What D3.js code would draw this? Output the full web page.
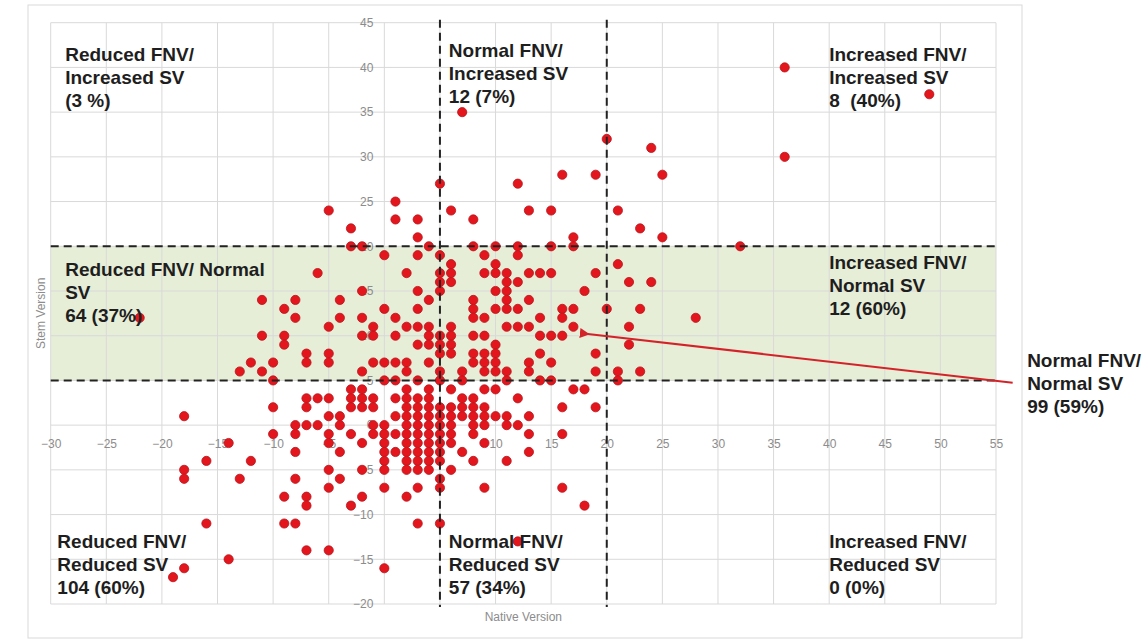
<!DOCTYPE html>
<html><head><meta charset="utf-8">
<script src="https://cdn.jsdelivr.net/npm/d3@7"></script>
<style>body{margin:0;background:#fff;} svg{display:block;}</style>
</head><body>
<svg id="chart" width="1148" height="643"></svg>
<script>
// ---- data ----
const xTicks = [-30,-25,-20,-15,-10,-5,0,5,10,15,20,25,30,35,40,45,50,55];
const yTicks = [-20,-15,-10,-5,0,5,10,15,20,25,30,35,40,45];
const xThresholds = [5, 20];          // Native Version cut-offs
const yThresholds = [5, 20];          // Stem Version cut-offs (normal band)
const xTitle = "Native Version";
const yTitle = "Stem Version";
// [native, stem]
const points = [
 [36,40],[49,37],[7,35],[20,32],[24,31],[36,30],[16,28],[19,28],[25,28],[5,27],[12,27],
 [1,25],
 [-5,24],[6,24],[13,24],[15,24],[21,24],
 [1,23],[3,23],[8,23],
 [-3,22],[23,22],
 [3,21],[17,21],[25,21],
 [-3,20],[-2,20],[4,20],[8,20],[10,20],[12,20],[15,20],[17,20],[32,20],
 [0,19],[3,19],[5,19],[9,19],[12,19],
 [6,18],[10,18],[21,18],
 [-6,17],[2,17],[5,17],[6,17],[9,17],[10,17],[11,17],[13,17],[14,17],[15,17],[19,17],
 [5,16],[6,16],[11,16],[12,16],[22,16],[24,16],
 [-2,15],[3,15],[5,15],[10,15],[11,15],[18,15],
 [-11,14],[-8,14],[-4,14],[4,14],[8,14],[11,14],[13,14],
 [-9,13],[0,13],[3,13],[8,13],[10,13],[11,13],[12,13],[16,13],[17,13],[20,13],[23,13],
 [-22,12],[-8,12],[-4,12],[-2,12],[1,12],[8,12],[9,12],[14,12],[16,12],[28,12],
 [-5,11],[-1,11],[2,11],[3,11],[4,11],[6,11],[11,11],[12,11],[13,11],[17,11],[22,11],
 [-11,10],[-9,10],[-2,10],[-1,10],[1,10],[4,10],[5,10],[6,10],[8,10],[9,10],[14,10],[15,10],[16,10],
 [-9,9],[3,9],[4,9],[5,9],[6,9],[10,9],[22,9],
 [-7,8],[-5,8],[5,8],[6,8],[8,8],[9,8],[10,8],[14,8],[19,8],
 [-12,7],[-10,7],[-7,7],[-5,7],[-1,7],[0,7],[1,7],[2,7],[4,7],[8,7],[9,7],[10,7],[13,7],[15,7],
 [-13,6],[-11,6],[-2,6],[2,6],[5,6],[7,6],[9,6],[10,6],[11,6],[13,6],[19,6],[21,6],[23,6],
 [-10,5],[0,5],[1,5],[3,5],[5,5],[7,5],[11,5],[14,5],[15,5],[21,5],
 [-3,4],[-2,4],[2,4],[4,4],[6,4],[9,4],[10,4],[17,4],[18,4],
 [-7,3],[-6,3],[-5,3],[-3,3],[-2,3],[-1,3],[1,3],[2,3],[3,3],[4,3],[7,3],[8,3],[12,3],
 [-10,2],[-7,2],[-3,2],[-2,2],[-1,2],[2,2],[3,2],[4,2],[5,2],[6,2],[7,2],[8,2],[9,2],[16,2],[19,2],
 [-18,1],[-5,1],[-4,1],[1,1],[2,1],[3,1],[4,1],[5,1],[6,1],[7,1],[8,1],[9,1],[10,1],[11,1],[13,1],
 [-8,0],[-7,0],[-6,0],[-4,0],[-1,0],[0,0],[2,0],[3,0],[4,0],[5,0],[6,0],[8,0],[9,0],[11,0],[12,0],
 [-10,-1],[-8,-1],[-5,-1],[-3,-1],[-1,-1],[0,-1],[1,-1],[2,-1],[3,-1],[4,-1],[5,-1],[6,-1],[8,-1],[13,-1],[16,-1],
 [-14,-2],[-5,-2],[-2,-2],[0,-2],[2,-2],[3,-2],[4,-2],[5,-2],[6,-2],[9,-2],
 [-8,-3],[-4,-3],[0,-3],[1,-3],[2,-3],[3,-3],[4,-3],[5,-3],[7,-3],[13,-3],
 [-16,-4],[-12,-4],[0,-4],[2,-4],[3,-4],[4,-4],[5,-4],[8,-4],[11,-4],
 [-18,-5],[-5,-5],[-2,-5],[0,-5],[2,-5],[3,-5],[4,-5],[6,-5],
 [-18,-6],[-13,-6],[-8,-6],[-4,-6],[5,-6],
 [-5,-7],[0,-7],[3,-7],[5,-7],[9,-7],[16,-7],
 [-9,-8],[-7,-8],[-2,-8],[2,-8],
 [-7,-9],[-3,-9],[18,-9],
 [-16,-11],[-9,-11],[-8,-11],[3,-11],[5,-11],
 [12,-13],
 [-7,-14],[-5,-14],
 [-14,-15],
 [-18,-16],[0,-16],
 [-19,-17]
];
// quadrant annotation text lines and their anchor (data coords: native, stem)
const labelLines = [
 ["Reduced FNV/","Increased SV","(3 %)"],
 ["Normal FNV/","Increased SV","12 (7%)"],
 ["Increased FNV/","Increased SV","8  (40%)"],
 ["Reduced FNV/ Normal","SV","64 (37%)"],
 ["Increased FNV/","Normal SV","12 (60%)"],
 ["Normal FNV/","Normal SV","99 (59%)"],
 ["Reduced FNV/","Reduced SV","104 (60%)"],
 ["Normal FNV/","Reduced SV","57 (34%)"],
 ["Increased FNV/","Reduced SV","0 (0%)"]
];
const labelAnchors = [
 [-28.7, 40.7],[5.8, 41.2],[40.0, 40.7],
 [-28.7, 16.7],[40.0, 17.5],[57.8, 6.5],
 [-29.4, -13.7],[5.8, -13.7],[40.0, -13.7]
];
const arrowFrom = [56.5, 4.75];
const arrowTo = [18.3, 10.2];

// ---- chart ----
const svg = d3.select("#chart");
const x = d3.scaleLinear().domain([-30,55]).range([50.7, 996]);
const y = d3.scaleLinear().domain([-20,45]).range([604, 22.7]);

// outer chart border
svg.append("rect").attr("x",28).attr("y",5).attr("width",994).attr("height",633)
  .attr("fill","none").attr("stroke","#d9d9d9").attr("stroke-width",1);

// normal-SV band
svg.append("rect")
  .attr("x", x(-30)).attr("y", y(yThresholds[1]))
  .attr("width", x(55)-x(-30)).attr("height", y(yThresholds[0])-y(yThresholds[1]))
  .attr("fill","#e6eed8");

// gridlines
const grid = svg.append("g").attr("stroke","#d9d9d9").attr("stroke-width",1);
grid.selectAll(".vx").data(xTicks).join("line")
  .attr("x1",d=>x(d)).attr("x2",d=>x(d)).attr("y1",y(45)).attr("y2",y(-20));
grid.selectAll(".hy").data(yTicks).join("line")
  .attr("y1",d=>y(d)).attr("y2",d=>y(d)).attr("x1",x(-30)).attr("x2",x(55));

// axis labels via d3 axes crossing at 0
const xAxis = svg.append("g").attr("transform",`translate(0,${y(0)})`)
  .call(d3.axisBottom(x).tickValues(xTicks).tickSize(0).tickPadding(14).tickFormat(d3.format("d")));
const yAxis = svg.append("g").attr("transform",`translate(${x(0)},0)`)
  .call(d3.axisLeft(y).tickValues(yTicks).tickSize(0).tickPadding(11).tickFormat(d3.format("d")));
[xAxis,yAxis].forEach(a=>{
  a.select(".domain").remove();
  a.selectAll("text").attr("fill","#8c8c8c").style("font-family","'Liberation Sans', Arial, sans-serif").style("font-size","12px");
});

// axis titles
svg.append("text").attr("x",(x(-30)+x(55))/2).attr("y",621).attr("text-anchor","middle")
  .attr("fill","#8c8c8c").style("font-family","'Liberation Sans', Arial, sans-serif").style("font-size","12px").text(xTitle);
svg.append("text").attr("transform",`translate(42,${(y(45)+y(-20))/2}) rotate(-90)`)
  .attr("text-anchor","middle").attr("dominant-baseline","middle")
  .attr("fill","#8c8c8c").style("font-family","'Liberation Sans', Arial, sans-serif").style("font-size","12px").text(yTitle);

// points
svg.append("g").selectAll("circle").data(points).join("circle")
  .attr("cx",d=>x(d[0])).attr("cy",d=>y(d[1])).attr("r",4.6)
  .attr("fill","#e4161d").attr("stroke","#b8141b").attr("stroke-width",0.8);

// dashed threshold lines
const dash = svg.append("g").attr("stroke","#222").attr("stroke-width",2).attr("stroke-dasharray","8,5");
dash.selectAll(".v").data(xThresholds).join("line")
  .attr("x1",d=>x(d)).attr("x2",d=>x(d)).attr("y1",y(45)-3).attr("y2",y(-20)+3);
dash.selectAll(".h").data(yThresholds).join("line")
  .attr("y1",d=>y(d)).attr("y2",d=>y(d)).attr("x1",x(-30)).attr("x2",x(55));

// arrow
svg.append("defs").append("marker").attr("id","arr").attr("viewBox","0 0 10 10")
  .attr("refX",2).attr("refY",5).attr("markerWidth",5).attr("markerHeight",5).attr("orient","auto-start-reverse")
  .append("path").attr("d","M10,0 L0,5 L10,10 z").attr("fill","#d42229");
svg.append("line").attr("x1",x(arrowFrom[0])).attr("y1",y(arrowFrom[1]))
  .attr("x2",x(arrowTo[0])).attr("y2",y(arrowTo[1]))
  .attr("stroke","#d42229").attr("stroke-width",2).attr("marker-end","url(#arr)");

// quadrant labels
const lg = svg.append("g").style("font-family","'Liberation Sans', Arial, sans-serif")
  .style("font-size","19px").style("font-weight","bold").attr("fill","#1e1e1e");
labelLines.forEach((lines,i)=>{
  const t = lg.append("text").attr("x",x(labelAnchors[i][0])).attr("y",y(labelAnchors[i][1])).attr("xml:space","preserve");
  lines.forEach((s,j)=>{
    t.append("tspan").attr("x",x(labelAnchors[i][0])).attr("dy", j===0?0:23).text(s);
  });
});
</script>
</body></html>
